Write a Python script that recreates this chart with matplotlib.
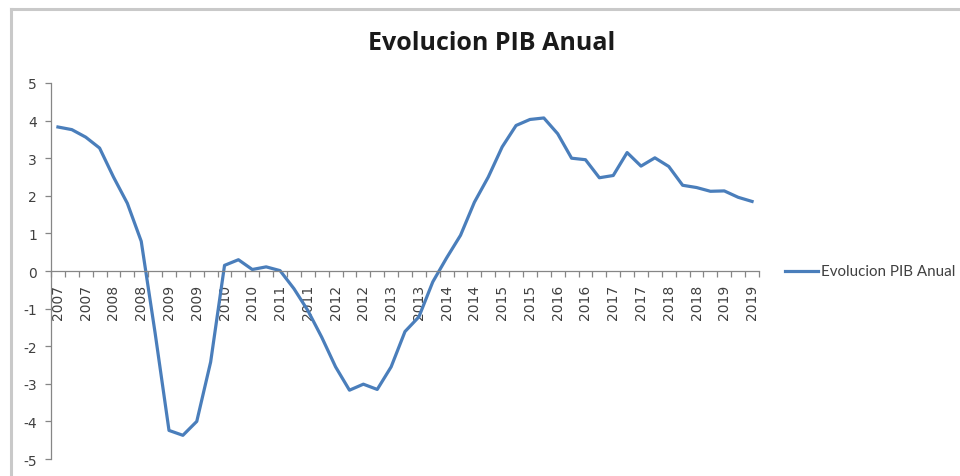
import matplotlib
matplotlib.use("Agg")
import matplotlib.pyplot as plt
from matplotlib.lines import Line2D

title = "Evolucion PIB Anual"
series_name = "Evolucion PIB Anual"
years = [2007, 2008, 2009, 2010, 2011, 2012, 2013, 2014, 2015, 2016, 2017, 2018, 2019]
# quarterly labels 2007Q1 .. 2019Q3
categories = [str(y) for y in years for _ in range(4)][:51]
values = [3.83, 3.76, 3.56, 3.27, 2.50, 1.80, 0.79, -1.65, -4.24, -4.37, -4.00, -2.42,
          0.15, 0.30, 0.04, 0.11, 0.01, -0.47, -1.05, -1.76, -2.55, -3.17, -3.01, -3.15,
          -2.55, -1.61, -1.22, -0.29, 0.35, 0.95, 1.83, 2.50, 3.30, 3.87, 4.03, 4.07,
          3.65, 3.00, 2.96, 2.48, 2.54, 3.15, 2.79, 3.01, 2.78, 2.28, 2.22, 2.12,
          2.13, 1.96, 1.85]
yticks = [-5, -4, -3, -2, -1, 0, 1, 2, 3, 4, 5]

W, H = 960, 477
fig = plt.figure(figsize=(W / 100, H / 100), dpi=100)
fig.patch.set_facecolor("white")

# chart area border (top and left visible)
fig.add_artist(Line2D([10.5 / W, 10.5 / W], [0, 1 - 9.5 / H], transform=fig.transFigure,
                      color="#c9c9c9", lw=2.2))
fig.add_artist(Line2D([10.5 / W, 1], [1 - 9.5 / H, 1 - 9.5 / H], transform=fig.transFigure,
                      color="#c9c9c9", lw=2.2))

left, right = 51 / W, 759 / W
bottom, top = 1 - 460 / H, 1 - 84 / H
ax = fig.add_axes([left, bottom, right - left, top - bottom])

x = list(range(len(values)))
ax.plot(x, values, color="#4a7ebb", lw=2.3, solid_joinstyle="round", label=series_name)

ax.set_xlim(-0.5, len(values) - 0.5)
ax.set_ylim(-5, 5)

axis_col = "#868686"
for s in ["top", "right"]:
    ax.spines[s].set_visible(False)
ax.spines["left"].set_color(axis_col)
ax.spines["left"].set_linewidth(0.9)
ax.spines["bottom"].set_position(("data", 0))
ax.spines["bottom"].set_color(axis_col)
ax.spines["bottom"].set_linewidth(0.9)

ax.set_yticks(yticks)
ax.set_yticklabels([str(v) for v in yticks])
ax.tick_params(axis="y", direction="out", length=4, width=0.9, color=axis_col,
               labelsize=10, labelcolor="#404040", pad=6)

# ticks at category boundaries, labels every second category
ax.set_xticks([i - 0.5 for i in range(len(values) + 1)])
ax.set_xticklabels([])
ax.set_xticks(x[::2], minor=True)
ax.set_xticklabels(categories[::2], minor=True, rotation=90)
ax.tick_params(axis="x", which="major", direction="out", length=4, width=0.9, color=axis_col)
ax.tick_params(axis="x", which="minor", length=0, labelsize=10, labelcolor="#404040", pad=9)

fig.text(492 / W, 1 - 44 / H, title, ha="center", va="center",
         fontsize=18, fontweight="bold", family="Open Sans", color="#1a1a1a")

# legend
ly = 1 - 272 / H
fig.add_artist(Line2D([785 / W, 818 / W], [ly, ly], transform=fig.transFigure,
                      color="#4a7ebb", lw=2.3))
fig.text(821 / W, ly, series_name, ha="left", va="center", fontsize=10.9,
         family="Lato", color="#404040")

fig.savefig("out.png", dpi=100, facecolor="white")
